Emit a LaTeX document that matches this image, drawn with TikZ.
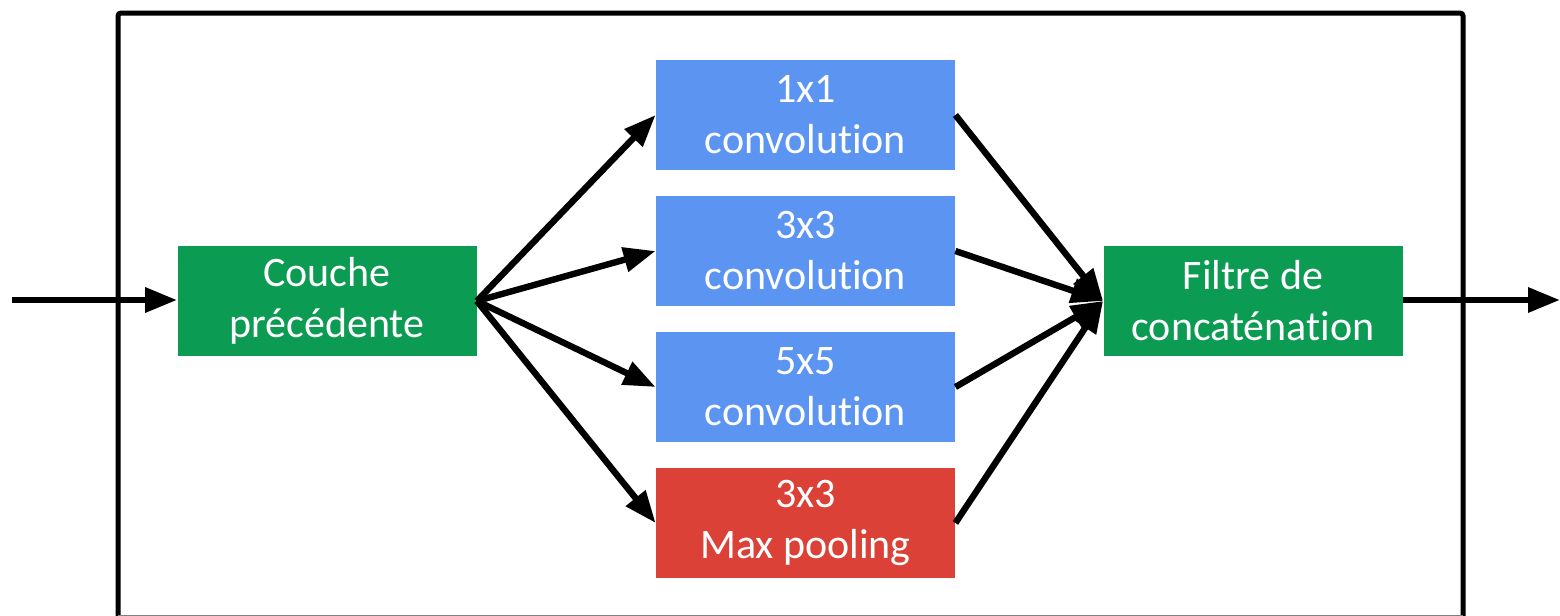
\documentclass[tikz,border=0pt]{standalone}
\usepackage{fontspec}
\setmainfont{Carlito}[RawFeature={-liga}]
\usetikzlibrary{arrows.meta}
\definecolor{boxgreen}{HTML}{0C9B52}
\definecolor{boxblue}{HTML}{5B95F1}
\definecolor{boxred}{HTML}{DB4136}
\tikzset{
  block/.style={rectangle, inner sep=0pt, minimum width=149.5pt, minimum height=55pt,
    text=white, align=center, font=\fontsize{21}{25.5}\selectfont},
  green block/.style={block, fill=boxgreen},
  blue block/.style={block, fill=boxblue},
  red block/.style={block, fill=boxred},
  flow/.style={line width=3.2pt, -{Triangle[length=16pt,width=12pt]}},
  frame/.style={line width=2.5pt, rounded corners=1.5pt}
}
\begin{document}
\begin{tikzpicture}[x=0.5pt, y=-0.5pt]
\useasboundingbox (0,0) rectangle (1560,616);
\begin{scope}
\clip (0,0) rectangle (1560,616);
\draw[frame] (118,617) -- (118,13) -- (1463,13) -- (1463,617);
\draw[gray, line width=0.5pt] (118,615.6) -- (1463,615.6);
\end{scope}

\node[green block] (prev) at (327,301) {Couche\\précédente};
\node[blue block] (c1) at (805.5,115) {1x1\\convolution};
\node[blue block] (c3) at (805.5,251) {3x3\\convolution};
\node[blue block] (c5) at (805.5,387) {5x5\\convolution};
\node[red block] (mp) at (805.5,523) {3x3\\Max pooling};
\node[green block] (cat) at (1253,301) {Filtre de\\concaténation};

\coordinate (in) at (12,300);
\coordinate (out) at (1560,300);

\draw[flow] (in) -- (prev.west |- in);
\draw[flow] (prev.east) -- (c1.west);
\draw[flow] (prev.east) -- (c3.west);
\draw[flow] (prev.east) -- (c5.west);
\draw[flow] (prev.east) -- (mp.west);
\draw[flow] (c1.east) -- (cat.west);
\draw[flow] (c3.east) -- (cat.west);
\draw[flow] (c5.east) -- (cat.west);
\draw[flow] (mp.east) -- (cat.west);
\draw[flow] (cat.east |- out) -- (out);
\end{tikzpicture}
\end{document}
